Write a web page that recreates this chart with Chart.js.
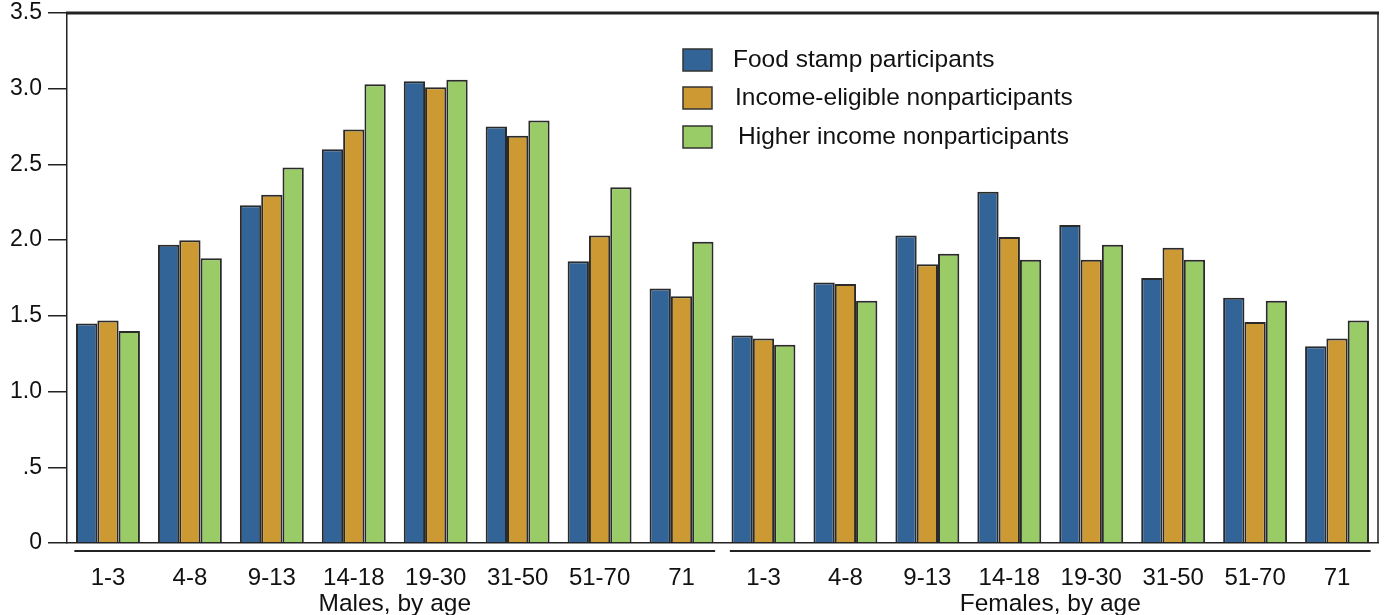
<!DOCTYPE html>
<html>
<head>
<meta charset="utf-8">
<script src="https://cdn.jsdelivr.net/npm/chart.js@4"></script>
<style>
  html, body { margin: 0; padding: 0; background: #fff; }
  #wrap { width: 1384px; height: 615px; }
</style>
</head>
<body>
<div id="wrap"><canvas id="grafico" width="1384" height="615"></canvas></div>
<script>
const categorias = ['1-3', '4-8', '9-13', '14-18', '19-30', '31-50', '51-70', '71',
                    '1-3', '4-8', '9-13', '14-18', '19-30', '31-50', '51-70', '71'];
const grupos = [
    { label: 'Males, by age', from: 0, to: 7 },
    { label: 'Females, by age', from: 8, to: 15 }
];
const participantes = [1.45, 1.97, 2.23, 2.60, 3.05, 2.75, 1.86, 1.68,
                       1.37, 1.72, 2.03, 2.32, 2.10, 1.75, 1.62, 1.30];
const elegiveis = [1.47, 2.00, 2.30, 2.73, 3.01, 2.69, 2.03, 1.63,
                   1.35, 1.71, 1.84, 2.02, 1.87, 1.95, 1.46, 1.35];
const rendaAlta = [1.40, 1.88, 2.48, 3.03, 3.06, 2.79, 2.35, 1.99,
                   1.31, 1.60, 1.91, 1.87, 1.97, 1.87, 1.60, 1.47];
const yTicks = [0, 0.5, 1.0, 1.5, 2.0, 2.5, 3.0, 3.5];

const fonte = "'Liberation Sans', Arial, Helvetica, sans-serif";

// moldura, linhas dos grupos e legenda desenhadas por cima
const extras = {
    id: 'extras',
    afterDraw(chart) {
        const ctx = chart.ctx;
        const area = chart.chartArea;
        const x = chart.scales.x;
        const w = x.getPixelForValue(1) - x.getPixelForValue(0);
        ctx.save();
        ctx.strokeStyle = '#222';
        ctx.lineWidth = 3;
        ctx.beginPath();
        ctx.moveTo(area.left - 1, area.top);
        ctx.lineTo(area.right + 1, area.top);
        ctx.stroke();
        ctx.lineWidth = 1.5;
        ctx.beginPath();
        ctx.moveTo(area.right, area.top);
        ctx.lineTo(area.right, area.bottom);
        ctx.stroke();

        ctx.lineWidth = 2;
        ctx.fillStyle = '#111';
        ctx.font = '24.5px ' + fonte;
        ctx.textAlign = 'center';
        ctx.textBaseline = 'middle';
        grupos.forEach(g => {
            const x0 = x.getPixelForValue(g.from) - w * 0.41;
            const x1 = x.getPixelForValue(g.to) + w * 0.41;
            ctx.beginPath();
            ctx.moveTo(x0, area.bottom + 8);
            ctx.lineTo(x1, area.bottom + 8);
            ctx.stroke();
            ctx.fillText(g.label, (x0 + x1) / 2, area.bottom + 61);
        });

        // legenda
        const lx = 683, ly = [60, 98, 137];
        ctx.textAlign = 'left';
        ctx.font = '24.5px ' + fonte;
        chart.data.datasets.forEach((ds, i) => {
            ctx.fillStyle = ds.backgroundColor;
            ctx.fillRect(lx, ly[i] - 11, 29, 22);
            ctx.lineWidth = 1.5;
            ctx.strokeStyle = '#333';
            ctx.strokeRect(lx, ly[i] - 11, 29, 22);
            ctx.fillStyle = '#111';
            ctx.fillText(ds.label, lx + 50 + (i === 0 ? 0 : i === 1 ? 2 : 5), ly[i]);
        });
        ctx.restore();
    }
};

const ctx = document.getElementById('grafico').getContext('2d');
new Chart(ctx, {
    type: 'bar',
    data: {
        labels: categorias,
        datasets: [
            { label: 'Food stamp participants', data: participantes, backgroundColor: '#326497' },
            { label: 'Income-eligible nonparticipants', data: elegiveis, backgroundColor: '#CC9933' },
            { label: 'Higher income nonparticipants', data: rendaAlta, backgroundColor: '#99CC66' }
        ].map(d => Object.assign(d, {
            borderColor: '#2a2a2a',
            borderWidth: 2,
            borderSkipped: 'bottom',
            categoryPercentage: 0.78,
            barPercentage: 1.0
        }))
    },
    options: {
        responsive: false,
        animation: false,
        layout: { padding: { top: 0, right: 6, left: 0, bottom: 0 } },
        plugins: {
            legend: { display: false },
            tooltip: { enabled: false }
        },
        scales: {
            x: {
                grid: { display: false },
                border: { display: true, color: '#222', width: 1.5 },
                ticks: {
                    color: '#111',
                    font: { family: fonte, size: 24 },
                    padding: 13,
                    maxRotation: 0,
                    autoSkip: false
                },
                afterFit(scale) { scale.height = 72; }
            },
            y: {
                min: 0,
                max: 3.5,
                afterBuildTicks(scale) { scale.ticks = yTicks.map(v => ({ value: v })); },
                grid: { drawOnChartArea: false, drawTicks: true, tickLength: 19, color: '#222', lineWidth: 1.5 },
                border: { display: true, color: '#222', width: 1.5 },
                ticks: {
                    color: '#111',
                    font: { family: fonte, size: 23 },
                    padding: 6,
                    callback: v => v === 0 ? '0' : v < 1 ? '.5' : v.toFixed(1)
                },
                afterFit(scale) {
                    scale.width = 67;
                    scale.paddingTop = 13;
                    scale.paddingBottom = 0;
                }
            }
        }
    },
    plugins: [extras]
});
</script>
</body>
</html>
